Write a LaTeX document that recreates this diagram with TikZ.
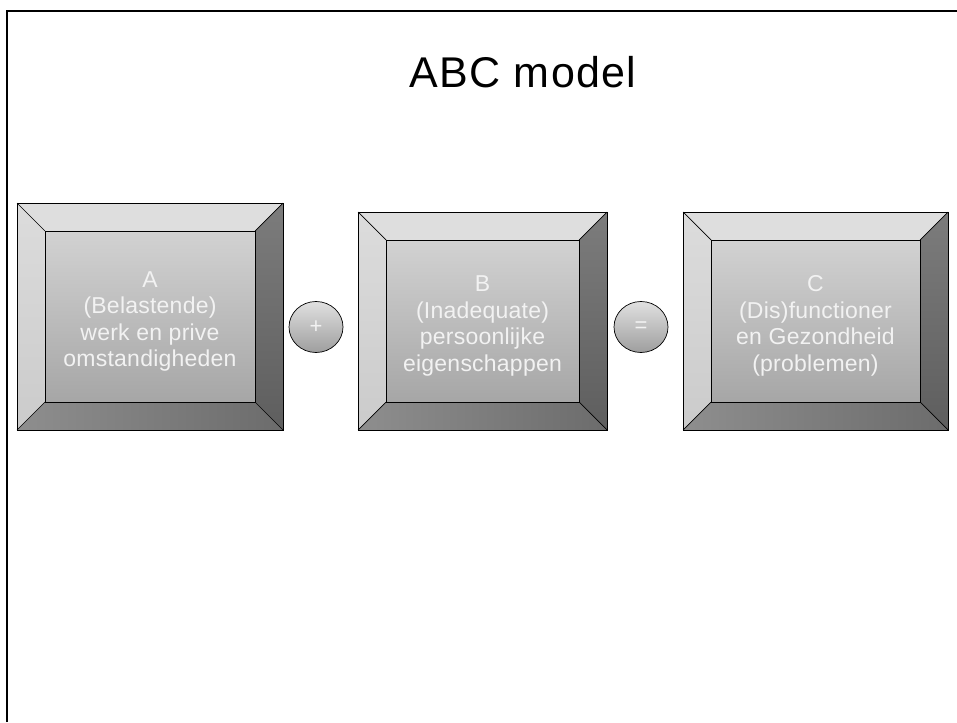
\documentclass[tikz,border=0pt]{standalone}
\usepackage{fontspec}
\setmainfont{Liberation Sans}
\usetikzlibrary{shapes.geometric}
\definecolor{bvtop}{HTML}{DEDEDE}
\definecolor{bvleftA}{HTML}{DCDCDC}
\definecolor{bvleftB}{HTML}{CBCBCB}
\definecolor{bvrightA}{HTML}{7C7C7C}
\definecolor{bvrightB}{HTML}{5E5E5E}
\definecolor{bvbotA}{HTML}{8E8E8E}
\definecolor{bvbotB}{HTML}{6C6C6C}
\definecolor{faceA}{HTML}{D2D2D2}
\definecolor{faceB}{HTML}{A6A6A6}
\definecolor{txtw}{HTML}{F2F2F2}
\tikzset{
  edgeline/.style={draw=black,line width=0.7pt},
  boxtext/.style={align=center,text=txtw,font=\fontsize{23}{26.5}\selectfont\addfontfeatures{LetterSpace=1},inner sep=0pt},
  opnode/.style={ellipse,draw=black,line width=0.7pt,top color=black!12,bottom color=black!38,
     minimum width=54pt,minimum height=51pt,inner sep=0pt,text=txtw,font=\fontsize{22}{24}\selectfont},
  frameline/.style={line width=2.6pt,draw=black}
}
\newcommand\bevbox[6]{%
  \fill[bvtop] (#2,#3) -- (#4,#3) -- (#4-28,#3+28) -- (#2+28,#3+28) -- cycle;
  \shade[top color=bvleftA,bottom color=bvleftB] (#2,#3) -- (#2+28,#3+28) -- (#2+28,#5-28) -- (#2,#5) -- cycle;
  \shade[top color=bvrightA,bottom color=bvrightB] (#4,#3) -- (#4-28,#3+28) -- (#4-28,#5-28) -- (#4,#5) -- cycle;
  \shade[left color=bvbotA,right color=bvbotB] (#2,#5) -- (#2+28,#5-28) -- (#4-28,#5-28) -- (#4,#5) -- cycle;
  \shade[top color=faceA,bottom color=faceB] (#2+28,#3+28) rectangle (#4-28,#5-28);
  \draw[edgeline] (#2,#3) rectangle (#4,#5);
  \draw[edgeline] (#2+28,#3+28) rectangle (#4-28,#5-28);
  \draw[edgeline] (#2,#3) -- (#2+28,#3+28);
  \draw[edgeline] (#4,#3) -- (#4-28,#3+28);
  \draw[edgeline] (#2,#5) -- (#2+28,#5-28);
  \draw[edgeline] (#4,#5) -- (#4-28,#5-28);
  \node[boxtext] (#1) at ({(#2+#4)/2},{(#3+#5)/2+5}) {#6};
}
\begin{document}
\begin{tikzpicture}[x=1pt,y=-1pt]
\useasboundingbox[fill=white] (0,0) rectangle (957,722);
\draw[frameline] (7,722) -- (7,11) -- (957,11);
\node[font=\fontsize{43}{50}\selectfont\addfontfeatures{LetterSpace=3},anchor=base] (title) at (523,88) {ABC model};
\bevbox{A}{17}{203}{283}{430}{A\\(Belastende)\\werk en prive\\omstandigheden}
\bevbox{B}{358}{212}{607}{430}{B\\(Inadequate)\\persoonlijke\\eigenschappen}
\bevbox{C}{683}{212}{948}{430}{C\\(Dis)functioner\\en Gezondheid\\(problemen)}
\node[opnode] (plus) at (316,327) {+};
\node[opnode] (eq) at (641,327) {=};
\end{tikzpicture}
\end{document}
